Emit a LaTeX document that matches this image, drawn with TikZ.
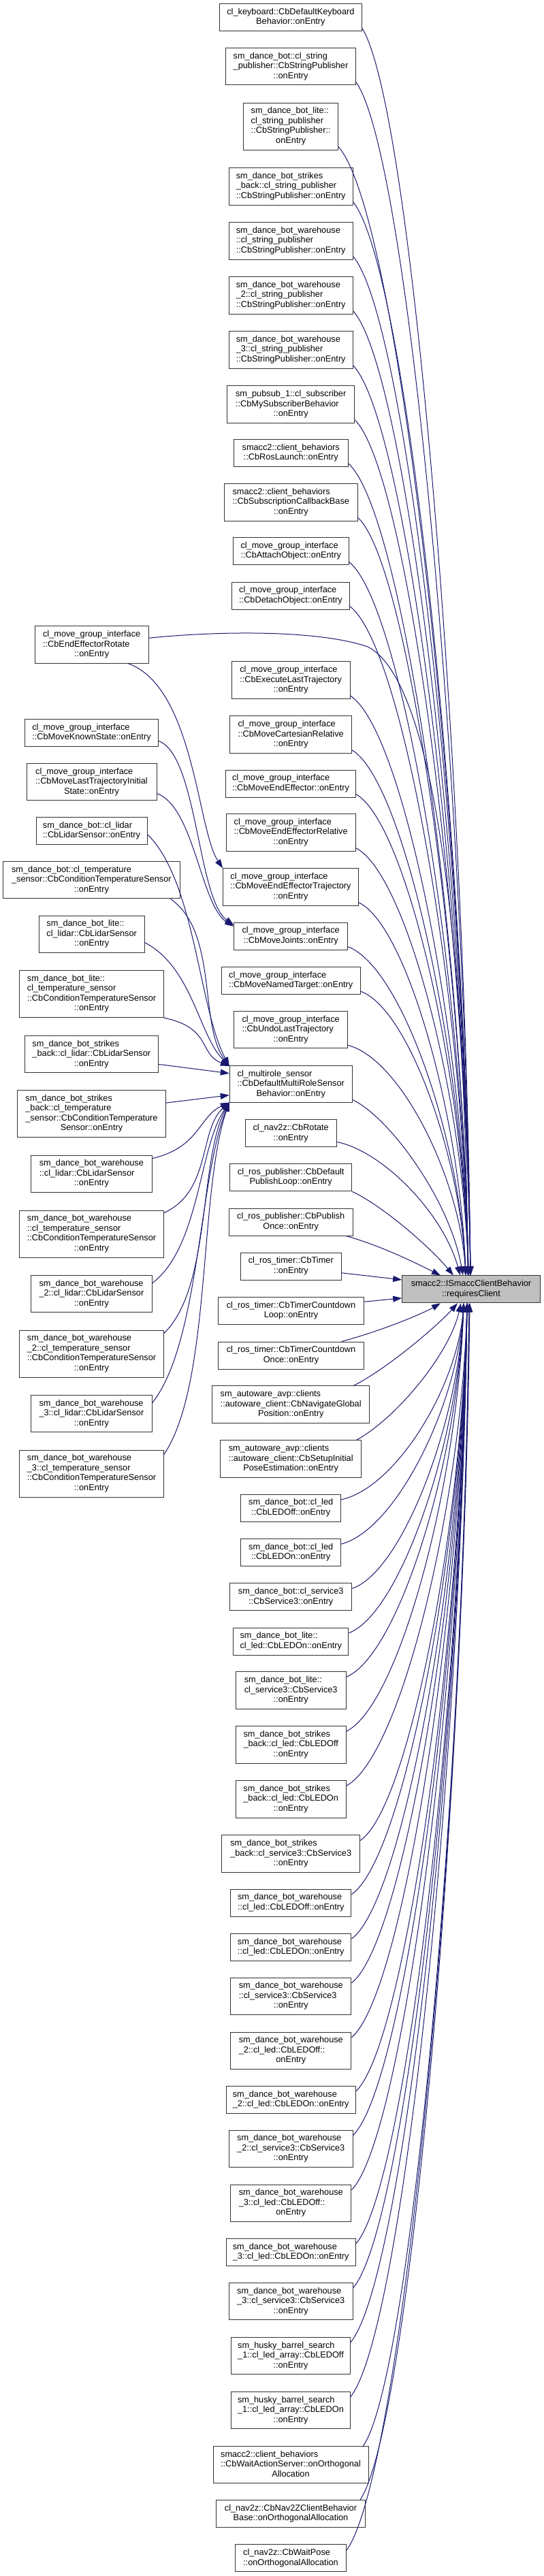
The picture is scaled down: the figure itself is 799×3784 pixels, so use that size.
\documentclass[tikz,border=0pt]{standalone}
\usepackage{fontspec}
\setmainfont{Liberation Sans}
\usetikzlibrary{arrows.meta,calc}
\definecolor{edgeblue}{HTML}{191970}
\definecolor{rgray}{HTML}{BFBFBF}
\newcommand{\dl}[2]{\begin{tabular}{@{}l@{}}#1\\\multicolumn{1}{@{}c@{}}{#2}\end{tabular}}
\newcommand{\cedge}[2]{\draw[edge] let \p1=(#1), \p2=(#2) in (\p1) .. controls (\x1+0.45*\x2-0.45*\x1, 0.94*\y1+0.06*\y2) and (0.95*\x2+0.05*\x1, 0.42*\y1+0.58*\y2) .. (\p2);}
\newcommand{\ledge}[2]{\draw[edge] let \p1=(#1), \p2=(#2) in (\p1) .. controls (\x1+70pt, 0.8*\y1+0.2*\y2) and (\x2-45pt, 0.25*\y1+0.75*\y2) .. (\p2);}
\begin{document}
\begin{tikzpicture}[x=1pt,y=1pt,
  box/.style={draw=black!80,line width=1pt,fill=white,inner sep=1pt,font=\fontsize{12.75}{14.5}\selectfont},
  b2/.style={box,minimum height=40pt},
  b3/.style={box,minimum height=54.5pt},
  b4/.style={box,minimum height=69pt},
  edge/.style={draw=edgeblue,line width=1pt,-{Triangle[length=13pt,width=9pt]}}]
\useasboundingbox (0,0) rectangle (799,-3784);
% middle column
\node[b2,minimum width=208.3pt] (n1) at (426.9,-25.7) {\dl{cl\_keyboard::CbDefaultKeyboard}{Behavior::onEntry}};
\node[b3,minimum width=190.6pt] (n2) at (427,-97.75) {\dl{sm\_dance\_bot::cl\_string\\\_publisher::CbStringPublisher}{::onEntry}};
\node[b4,minimum width=139pt] (n3) at (427.2,-185.7) {\dl{sm\_dance\_bot\_lite::\\cl\_string\_publisher\\::CbStringPublisher::}{onEntry}};
\node[b3,minimum width=181.7pt] (n4) at (427.2,-273.9) {\dl{sm\_dance\_bot\_strikes\\\_back::cl\_string\_publisher}{::CbStringPublisher::onEntry}};
\node[b3,minimum width=181.7pt] (n5) at (427.2,-353.9) {\dl{sm\_dance\_bot\_warehouse\\::cl\_string\_publisher}{::CbStringPublisher::onEntry}};
\node[b3,minimum width=181.7pt] (n6) at (427.2,-434) {\dl{sm\_dance\_bot\_warehouse\\\_2::cl\_string\_publisher}{::CbStringPublisher::onEntry}};
\node[b3,minimum width=181.7pt] (n7) at (427.2,-514) {\dl{sm\_dance\_bot\_warehouse\\\_3::cl\_string\_publisher}{::CbStringPublisher::onEntry}};
\node[b3,minimum width=187pt] (n8) at (427.2,-594.1) {\dl{sm\_pubsub\_1::cl\_subscriber\\::CbMySubscriberBehavior}{::onEntry}};
\node[b2,minimum width=168.3pt] (n9) at (427.2,-665.5) {\dl{smacc2::client\_behaviors}{::CbRosLaunch::onEntry}};
\node[b3,minimum width=196pt] (n10) at (427.3,-737.8) {\dl{smacc2::client\_behaviors\\::CbSubscriptionCallbackBase}{::onEntry}};
\node[b2,minimum width=169.7pt] (n11) at (427.2,-809.8) {\dl{cl\_move\_group\_interface}{::CbAttachObject::onEntry}};
\node[b2,minimum width=172.6pt] (n12) at (427,-875.1) {\dl{cl\_move\_group\_interface}{::CbDetachObject::onEntry}};
\node[b3,minimum width=173.7pt] (n13) at (427.2,-999.2) {\dl{cl\_move\_group\_interface\\::CbExecuteLastTrajectory}{::onEntry}};
\node[b3,minimum width=179pt] (n14) at (427.2,-1079.2) {\dl{cl\_move\_group\_interface\\::CbMoveCartesianRelative}{::onEntry}};
\node[b2,minimum width=190.6pt] (n15) at (427,-1151) {\dl{cl\_move\_group\_interface}{::CbMoveEndEffector::onEntry}};
\node[b3,minimum width=189.7pt] (n16) at (427.2,-1222.9) {\dl{cl\_move\_group\_interface\\::CbMoveEndEffectorRelative}{::onEntry}};
\node[b3,minimum width=198.6pt] (n17) at (427,-1303) {\dl{cl\_move\_group\_interface\\::CbMoveEndEffectorTrajectory}{::onEntry}};
\node[b2,minimum width=167pt] (n18) at (427.2,-1375.3) {\dl{cl\_move\_group\_interface}{::CbMoveJoints::onEntry}};
\node[b2,minimum width=204.3pt] (n19) at (427.2,-1440.8) {\dl{cl\_move\_group\_interface}{::CbMoveNamedTarget::onEntry}};
\node[b3,minimum width=167pt] (n20) at (427.2,-1512.7) {\dl{cl\_move\_group\_interface\\::CbUndoLastTrajectory}{::onEntry}};
\node[b3,minimum width=180pt] (n21) at (427.3,-1592.7) {\dl{cl\_multirole\_sensor\\::CbDefaultMultiRoleSensor}{Behavior::onEntry}};
\node[b2,minimum width=133.7pt] (n22) at (427.2,-1664.9) {\dl{cl\_nav2z::CbRotate}{::onEntry}};
\node[b2,minimum width=179pt] (n23) at (427.2,-1729.8) {\dl{cl\_ros\_publisher::CbDefault}{PublishLoop::onEntry}};
\node[b2,minimum width=181.7pt] (n24) at (427.2,-1795.1) {\dl{cl\_ros\_publisher::CbPublish}{Once::onEntry}};
\node[b2,minimum width=148pt] (n25) at (427.3,-1860.2) {\dl{cl\_ros\_timer::CbTimer}{::onEntry}};
\node[b2,minimum width=213.6pt] (n26) at (427.5,-1925.7) {\dl{cl\_ros\_timer::CbTimerCountdown}{Loop::onEntry}};
\node[b2,minimum width=213.6pt] (n27) at (427.5,-1991) {\dl{cl\_ros\_timer::CbTimerCountdown}{Once::onEntry}};
\node[b3,minimum width=231pt] (n28) at (427.2,-2063.2) {\dl{sm\_autoware\_avp::clients\\::autoware\_client::CbNavigateGlobal}{Position::onEntry}};
\node[b3,minimum width=207pt] (n29) at (427.2,-2143.2) {\dl{sm\_autoware\_avp::clients\\::autoware\_client::CbSetupInitial}{PoseEstimation::onEntry}};
\node[b2,minimum width=147pt] (n30) at (427.2,-2215.3) {\dl{sm\_dance\_bot::cl\_led}{::CbLEDOff::onEntry}};
\node[b2,minimum width=147pt] (n31) at (427.2,-2280.6) {\dl{sm\_dance\_bot::cl\_led}{::CbLEDOn::onEntry}};
\node[b2,minimum width=179pt] (n32) at (427.2,-2345.9) {\dl{sm\_dance\_bot::cl\_service3}{::CbService3::onEntry}};
\node[b2,minimum width=169.3pt] (n33) at (427.3,-2411.2) {\dl{sm\_dance\_bot\_lite::}{cl\_led::CbLEDOn::onEntry}};
\node[b3,minimum width=161.7pt] (n34) at (427.2,-2483.2) {\dl{sm\_dance\_bot\_lite::\\cl\_service3::CbService3}{::onEntry}};
\node[b3,minimum width=161.7pt] (n35) at (427.2,-2563) {\dl{sm\_dance\_bot\_strikes\\\_back::cl\_led::CbLEDOff}{::onEntry}};
\node[b3,minimum width=161.7pt] (n36) at (427.2,-2643) {\dl{sm\_dance\_bot\_strikes\\\_back::cl\_led::CbLEDOn}{::onEntry}};
\node[b3,minimum width=203pt] (n37) at (427.2,-2723.2) {\dl{sm\_dance\_bot\_strikes\\\_back::cl\_service3::CbService3}{::onEntry}};
\node[b2,minimum width=177.3pt] (n38) at (427.3,-2795.1) {\dl{sm\_dance\_bot\_warehouse}{::cl\_led::CbLEDOff::onEntry}};
\node[b2,minimum width=177.3pt] (n39) at (427.3,-2860.4) {\dl{sm\_dance\_bot\_warehouse}{::cl\_led::CbLEDOn::onEntry}};
\node[b3,minimum width=177.3pt] (n40) at (427.3,-2932.5) {\dl{sm\_dance\_bot\_warehouse\\::cl\_service3::CbService3}{::onEntry}};
\node[b3,minimum width=177.3pt] (n41) at (427.3,-3012.5) {\dl{sm\_dance\_bot\_warehouse\\\_2::cl\_led::CbLEDOff::}{onEntry}};
\node[b2,minimum width=189.7pt] (n42) at (427.2,-3084.7) {\dl{sm\_dance\_bot\_warehouse}{\_2::cl\_led::CbLEDOn::onEntry}};
\node[b3,minimum width=181.7pt] (n43) at (427.2,-3156.3) {\dl{sm\_dance\_bot\_warehouse\\\_2::cl\_service3::CbService3}{::onEntry}};
\node[b3,minimum width=177.3pt] (n44) at (427.3,-3236.5) {\dl{sm\_dance\_bot\_warehouse\\\_3::cl\_led::CbLEDOff::}{onEntry}};
\node[b2,minimum width=189.7pt] (n45) at (427.2,-3308.7) {\dl{sm\_dance\_bot\_warehouse}{\_3::cl\_led::CbLEDOn::onEntry}};
\node[b3,minimum width=181.7pt] (n46) at (427.2,-3380.6) {\dl{sm\_dance\_bot\_warehouse\\\_3::cl\_service3::CbService3}{::onEntry}};
\node[b3,minimum width=174.6pt] (n47) at (427,-3460.6) {\dl{sm\_husky\_barrel\_search\\\_1::cl\_led\_array::CbLEDOff}{::onEntry}};
\node[b3,minimum width=174.6pt] (n48) at (427,-3540.6) {\dl{sm\_husky\_barrel\_search\\\_1::cl\_led\_array::CbLEDOn}{::onEntry}};
\node[b3,minimum width=228pt] (n49) at (427,-3620.6) {\dl{smacc2::client\_behaviors\\::CbWaitActionServer::onOrthogonal}{Allocation}};
\node[b2,minimum width=218.6pt] (n50) at (427,-3692.8) {\dl{cl\_nav2z::CbNav2ZClientBehavior}{Base::onOrthogonalAllocation}};
\node[b2,minimum width=162.6pt] (n51) at (427,-3757.9) {\dl{cl\_nav2z::CbWaitPose}{::onOrthogonalAllocation}};
% left column
\node[b3,minimum width=167.3pt] (l1) at (134.7,-947.2) {\dl{cl\_move\_group\_interface\\::CbEndEffectorRotate}{::onEntry}};
\node[b2,minimum width=196.4pt] (l2) at (134.5,-1076.5) {\dl{cl\_move\_group\_interface}{::CbMoveKnownState::onEntry}};
\node[b3,minimum width=191pt] (l3) at (134.5,-1148.6) {\dl{cl\_move\_group\_interface\\::CbMoveLastTrajectoryInitial}{State::onEntry}};
\node[b2,minimum width=163pt] (l4) at (134.5,-1220.6) {\dl{sm\_dance\_bot::cl\_lidar}{::CbLidarSensor::onEntry}};
\node[b3,minimum width=259.3pt] (l5) at (134.4,-1292.7) {\dl{sm\_dance\_bot::cl\_temperature\\\_sensor::CbConditionTemperatureSensor}{::onEntry}};
\node[b3,minimum width=154.7pt] (l6) at (134.7,-1372.5) {\dl{sm\_dance\_bot\_lite::\\cl\_lidar::CbLidarSensor}{::onEntry}};
\node[b4,minimum width=211.6pt] (l7) at (134.5,-1460.2) {\dl{sm\_dance\_bot\_lite::\\cl\_temperature\_sensor\\::CbConditionTemperatureSensor}{::onEntry}};
\node[b3,minimum width=196pt] (l8) at (134.3,-1548.6) {\dl{sm\_dance\_bot\_strikes\\\_back::cl\_lidar::CbLidarSensor}{::onEntry}};
\node[b4,minimum width=217.6pt] (l9) at (134.5,-1636.1) {\dl{sm\_dance\_bot\_strikes\\\_back::cl\_temperature\\\_sensor::CbConditionTemperature}{Sensor::onEntry}};
\node[b3,minimum width=177.3pt] (l10) at (134.4,-1724.5) {\dl{sm\_dance\_bot\_warehouse\\::cl\_lidar::CbLidarSensor}{::onEntry}};
\node[b4,minimum width=211.6pt] (l11) at (134.5,-1812.7) {\dl{sm\_dance\_bot\_warehouse\\::cl\_temperature\_sensor\\::CbConditionTemperatureSensor}{::onEntry}};
\node[b3,minimum width=177.3pt] (l12) at (134.4,-1900.7) {\dl{sm\_dance\_bot\_warehouse\\\_2::cl\_lidar::CbLidarSensor}{::onEntry}};
\node[b4,minimum width=211.6pt] (l13) at (134.5,-1988.6) {\dl{sm\_dance\_bot\_warehouse\\\_2::cl\_temperature\_sensor\\::CbConditionTemperatureSensor}{::onEntry}};
\node[b3,minimum width=177.3pt] (l14) at (134.4,-2076.6) {\dl{sm\_dance\_bot\_warehouse\\\_3::cl\_lidar::CbLidarSensor}{::onEntry}};
\node[b4,minimum width=211.6pt] (l15) at (134.5,-2164.5) {\dl{sm\_dance\_bot\_warehouse\\\_3::cl\_temperature\_sensor\\::CbConditionTemperatureSensor}{::onEntry}};
% target
\node[b2,fill=rgray,minimum width=202.6pt] (R) at (692,-1893.9) {\dl{smacc2::ISmaccClientBehavior}{::requiresClient}};
% edges: middle (above) -> R
\foreach \i in {1,...,8} {\cedge{[yshift=5pt]n\i.south east}{[xshift=-1pt]R.north}}
\foreach \i in {9,...,16} {\cedge{[yshift=5pt]n\i.south east}{[xshift=-4pt]R.north}}
\foreach \i in {17,...,20} {\cedge{[yshift=5pt]n\i.south east}{[xshift=-8pt]R.north}}
\draw[edge] ([yshift=5pt]n21.south east) .. controls (570,-1640) and (660,-1760) .. ([xshift=-12pt]R.north);
\draw[edge] ([yshift=8pt]n22.south east) .. controls (560,-1690) and (650,-1780) .. ([xshift=-16pt]R.north);
\draw[edge] (n23.south east) .. controls (560,-1770) and (630,-1830) .. ([xshift=-26pt]R.north);
\draw[edge] ([xshift=-10pt]n24.south east) .. controls (560,-1830) and (610,-1855) .. ([xshift=-45pt]R.north);
\draw[edge] ([yshift=-9.6pt]n25.east) -- ([yshift=14pt]R.west);
\draw[edge] ([yshift=13.5pt]n26.east) -- ([yshift=-13pt]R.west);
% edges: middle (below) -> R
\draw[edge] ([xshift=-33pt]n27.north east) .. controls (560,-1955) and (620,-1930) .. ([xshift=-45pt]R.south);
\draw[edge] ([xshift=-24pt]n28.north east) .. controls (570,-2010) and (645,-1945) .. ([xshift=-20pt]R.south);
\draw[edge] ([xshift=-8pt]n29.north east) .. controls (580,-2085) and (660,-1990) .. ([xshift=-15pt]R.south);
\foreach \i in {30,...,35} {\cedge{[yshift=-8pt]n\i.north east}{[xshift=-11pt]R.south}}
\foreach \i in {36,...,48} {\cedge{[yshift=-8pt]n\i.north east}{[xshift=-6pt]R.south}}
\cedge{[xshift=-8pt]n49.north east}{[xshift=-3pt]R.south}
\cedge{[xshift=-8pt]n50.north east}{[xshift=-3pt]R.south}
\cedge{[yshift=-9pt]n51.north east}{[xshift=-2pt]R.south}
% left -> R and middle
\draw[edge] ([yshift=10pt]l1.east) .. controls (330,-926) and (470,-926) .. (540,-950) .. controls (640,-1000) and (684,-1400) .. ([xshift=-5pt]R.north);
\draw[edge] ([xshift=-30pt]l1.south east) .. controls (285,-1010) and (290,-1220) .. (n17.north west);
\draw[edge] ([yshift=-12pt]l2.east) .. controls (290,-1110) and (290,-1320) .. ([yshift=-4pt]n18.north west);
\draw[edge] ([yshift=-17pt]l3.east) .. controls (285,-1185) and (295,-1330) .. ([yshift=-6pt]n18.north west);
% sensors -> multirole
\ledge{[yshift=-5pt]l4.east}{[yshift=-1pt]n21.north west}
\ledge{[xshift=-14pt]l5.south east}{[yshift=-1pt]n21.north west}
\ledge{[yshift=-12pt]l6.east}{[yshift=-1pt]n21.north west}
\ledge{l7.south east}{[yshift=-1pt]n21.north west}
\draw[edge] ([yshift=-14.7pt]l8.east) -- ([yshift=16pt]n21.west);
\draw[edge] ([yshift=16pt]l9.east) -- ([yshift=-16pt]n21.west);
\ledge{[yshift=-5pt]l10.north east}{[yshift=1pt]n21.south west}
\ledge{[yshift=-4pt]l11.north east}{[yshift=1pt]n21.south west}
\ledge{[yshift=-12pt]l12.north east}{[yshift=1pt]n21.south west}
\ledge{[yshift=-5pt]l13.north east}{[yshift=1pt]n21.south west}
\ledge{[yshift=-12pt]l14.north east}{[yshift=1pt]n21.south west}
\ledge{[yshift=-7pt]l15.north east}{[yshift=1pt]n21.south west}
\end{tikzpicture}
\end{document}
